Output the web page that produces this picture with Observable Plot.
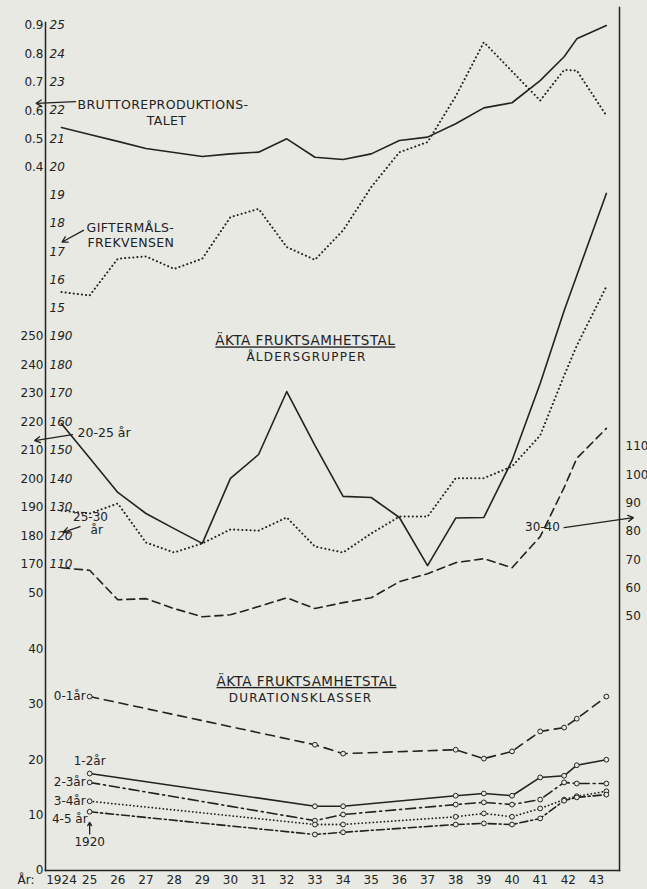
<!DOCTYPE html>
<html><head><meta charset="utf-8">
<script src="https://cdn.jsdelivr.net/npm/d3@7"></script>
<script src="https://cdn.jsdelivr.net/npm/@observablehq/plot@0.6"></script>
<style>
html,body{margin:0;padding:0;background:#e8e9e3;}
#chart{position:relative;width:647px;height:889px;overflow:hidden;background:#e8e9e3;}
#chart svg{position:absolute;left:0;top:0;overflow:visible;}
.ul text{text-decoration:underline;letter-spacing:0.5px;}
.sp text{letter-spacing:0.4px;}
.sp2 text{letter-spacing:1.2px;}
</style></head><body><div id="chart"></div>
<script>
// ---------- data ----------
const xTicks = [1924,1925,1926,1927,1928,1929,1930,1931,1932,1933,1934,1935,1936,1937,1938,1939,1940,1941,1942,1943];
const yearsMain = [1924,1925,1926,1927,1928,1929,1930,1931,1932,1933,1934,1935,1936,1937,1938,1939,1940,1941,1941.85,1942.3,1943.35];
const brutto = [0.541,0.516,0.492,0.467,0.453,0.439,0.448,0.454,0.501,0.436,0.428,0.448,0.495,0.507,0.554,0.61,0.628,0.706,0.79,0.853,0.9];
const gifterm = [15.58,15.46,16.76,16.84,16.4,16.76,18.23,18.52,17.17,16.72,17.76,19.29,20.52,20.88,22.5,24.41,23.38,22.35,23.43,23.41,21.82];
const age2025 = [219.4,207.4,195.3,187.9,182.6,177.4,200.2,208.6,230.7,211.8,193.9,193.5,186.5,169.6,186.3,186.5,206.5,233.5,259,271.4,300.2];
const age2530 = [128.9,127.9,131.4,117.7,114.2,117.4,122.3,121.9,126.5,116.3,114.2,120.9,126.8,126.8,140.3,140.3,144.4,155.3,176.3,186.8,207.5];
const age3040 = [67.2,66.3,55.9,56.3,52.8,49.9,50.6,53.5,56.6,52.8,54.9,56.6,62.3,65.1,69.0,70.4,67.2,78.2,95.5,105.8,116.4];
const yearsDur = [1925,1933,1934,1938,1939,1940,1941,1941.85,1942.3,1943.35];
const dur01 = [31.4,22.7,21.1,21.8,20.2,21.5,25.1,25.8,27.4,31.4];
const dur12 = [17.5,11.6,11.6,13.5,13.9,13.5,16.8,17.1,19.0,20.0];
const dur23 = [15.9,9.0,10.1,11.9,12.3,11.9,12.8,15.9,15.7,15.7];
const dur34 = [12.5,8.3,8.3,9.7,10.3,9.7,11.2,12.8,13.4,14.3];
const dur45 = [10.6,6.5,6.9,8.3,8.5,8.3,9.4,12.6,13.2,13.7];
const brpTicks = [0.4,0.5,0.6,0.7,0.8,0.9];
const marTicks = [15,16,17,18,19,20,21,22,23,24,25];
const outerTicks = [170,180,190,200,210,220,230,240,250];
const innerTicks = [110,120,130,140,150,160,170,180,190];
const rightTicks = [50,60,70,80,90,100,110];
const durTicks = [0,10,20,30,40,50];

// ---------- styling ----------
const W = 647, H = 889;
const INK = "#222", BG = "#e8e9e3";
const FONT = "'DejaVu Sans', sans-serif";
const tbl = (xs, ys) => xs.map((x, i) => ({x, y: ys[i]}));

function layer(yOpt, marks, opts = {}) {
  return Plot.plot({
    width: W, height: H,
    marginLeft: 45, marginRight: 28, marginTop: opts.mt ?? 22, marginBottom: 19,
    x: {domain: [1924, 1943], range: [61, 596], ...(opts.xAxis ? {} : {axis: null})},
    y: {...yOpt, axis: null},
    style: {background: "transparent", fontFamily: FONT, fontSize: "12px", color: INK, overflow: "visible"},
    marks
  });
}
const line = (xs, ys, o = {}) => Plot.line(tbl(xs, ys), {x: "x", y: "y", stroke: INK, strokeWidth: 1.6, strokeLinejoin: "round", ...o});
const dotted = {strokeWidth: 2, strokeDasharray: "0.1,4", strokeLinecap: "round"};
const labelsL = (ticks, fmt) => Plot.text(ticks, {y: d => d, text: fmt, frameAnchor: "left", textAnchor: "end", dx: -2, fill: INK, fontSize: 12});
const labelsR = (ticks, fmt) => Plot.text(ticks, {y: d => d, text: fmt, frameAnchor: "left", textAnchor: "start", dx: 4, fill: INK, fontSize: 12, fontStyle: "italic"});
const arrow = (a) => Plot.arrow([a], {x1: "x1", y1: "y1", x2: "x2", y2: "y2", stroke: INK, strokeWidth: 1.3, headLength: 7});
const note = (t, x, y, o = {}) => Plot.text([{t, x, y}], {x: "x", y: "y", text: "t", fill: INK, fontSize: 12.5, ...o});

const chart = document.getElementById("chart");

// Bruttoreproduktionstalet + right frame + x axis
chart.append(layer({domain: [0.4, 0.9], range: [167, 25]}, [
  Plot.frame({anchor: "right", stroke: INK, strokeWidth: 1.5}),
  Plot.axisX({ticks: xTicks, anchor: "bottom", tickSize: 0, tickPadding: 5, fontSize: 12, fill: INK,
    tickFormat: d => d === 1924 ? "1924" : String(d).slice(2)}),
  Plot.text([1924], {x: d => d, text: () => "År:", frameAnchor: "bottom", textAnchor: "end", lineAnchor: "top", dy: 5, dx: -27, fontSize: 12, fill: INK}),
  labelsL(brpTicks, d => d.toFixed(1)),
  line(yearsMain, brutto),
  note("BRUTTOREPRODUKTIONS-", 1924.57, 0.621, {textAnchor: "start", className: "sp"}),
  note("TALET", 1927.73, 0.563, {className: "sp"}),
  arrow({x1: 1924.5, y1: 0.632, x2: 1923.1, y2: 0.626})
], {mt: 7, xAxis: true}));

// Giftermålsfrekvensen
chart.append(layer({domain: [15, 25], range: [308, 25]}, [
  labelsR(marTicks, d => String(d)),
  line(yearsMain, gifterm, dotted),
  note("GIFTERMÅLS-", 1924.89, 17.85, {textAnchor: "start", className: "sp"}),
  note("FREKVENSEN", 1924.92, 17.3, {textAnchor: "start", className: "sp"}),
  arrow({x1: 1924.78, y1: 17.76, x2: 1924.02, y2: 17.35})
]));

// 20-25 år (outer left scale)
chart.append(layer({domain: [170, 250], range: [564, 336]}, [
  labelsL(outerTicks, d => String(d)),
  line(yearsMain, age2025),
  note("ÄKTA FRUKTSAMHETSTAL", 1932.66, 248.4, {className: "ul", fontSize: 13.5}),
  note("ÅLDERSGRUPPER", 1932.7, 242.6, {className: "sp2", fontSize: 12}),
  note("20-25 år", 1924.57, 216.2, {textAnchor: "start"}),
  arrow({x1: 1924.39, y1: 215.6, x2: 1923.05, y2: 213.5})
]));

// 25-30 år (inner left scale)
chart.append(layer({domain: [110, 190], range: [564, 336]}, [
  labelsR(innerTicks, d => String(d)),
  line(yearsMain, age2530, dotted),
  note("25-30", 1925.03, 126.6, {fontSize: 12}),
  note("år", 1925.25, 122.1, {fontSize: 12}),
  arrow({x1: 1924.66, y1: 123.3, x2: 1924.07, y2: 121.4})
]));

// 30-40 år (right scale)
chart.append(layer({domain: [50, 110], range: [616, 446]}, [
  Plot.text(rightTicks, {y: d => d, text: d => String(d), frameAnchor: "right", textAnchor: "start", dx: 6, fill: INK, fontSize: 12}),
  line(yearsMain, age3040, {strokeDasharray: "8,5"}),
  note("30-40", 1941.08, 81.4, {fontSize: 12}),
  arrow({x1: 1941.85, y1: 81.4, x2: 1944.31, y2: 84.9})
]));

// Durationsklasser
const durDots = (ys) => Plot.dot(tbl(yearsDur, ys), {x: "x", y: "y", r: 2.4, fill: BG, stroke: INK, strokeWidth: 1});
const durLabel = (ys, t, o) => Plot.text([{x: yearsDur[0], y: ys[0]}], {x: "x", y: "y", text: () => t, fill: INK, fontSize: 12, ...o});
chart.append(layer({domain: [0, 50], range: [870, 593]}, [
  Plot.frame({anchor: "left", stroke: INK, strokeWidth: 1.5}),
  Plot.frame({anchor: "bottom", stroke: INK, strokeWidth: 1.5}),
  labelsL(durTicks, d => String(d)),
  line(yearsDur, dur01, {strokeDasharray: "9,6"}),
  line(yearsDur, dur12),
  line(yearsDur, dur23, {strokeDasharray: "10,4,2,4"}),
  line(yearsDur, dur34, {...dotted, strokeWidth: 1.8, strokeDasharray: "0.1,3.6"}),
  line(yearsDur, dur45, {strokeDasharray: "8,3,2,3"}),
  durDots(dur01), durDots(dur12), durDots(dur23), durDots(dur34), durDots(dur45),
  note("ÄKTA FRUKTSAMHETSTAL", 1932.7, 34.1, {className: "ul", fontSize: 13.5}),
  note("DURATIONSKLASSER", 1932.49, 31.1, {className: "sp2", fontSize: 12}),
  durLabel(dur01, "0-1år", {textAnchor: "end", dx: -4}),
  durLabel(dur12, "1-2år", {dy: -12}),
  durLabel(dur23, "2-3år", {textAnchor: "end", dx: -4}),
  durLabel(dur34, "3-4år", {textAnchor: "end", dx: -4}),
  durLabel(dur45, "4-5 år", {textAnchor: "end", dx: -2, dy: 7}),
  note("1920", 1925, 5.2, {fontSize: 12}),
  arrow({x1: 1925, y1: 6.6, x2: 1925, y2: 8.7})
]));
</script></body></html>
